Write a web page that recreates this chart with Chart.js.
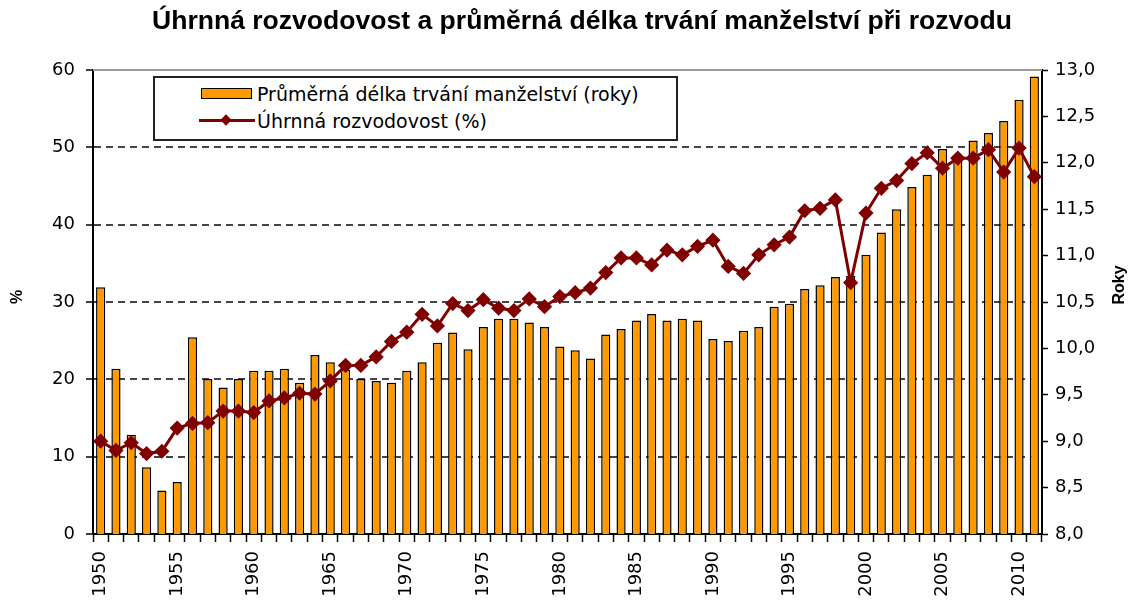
<!DOCTYPE html>
<html lang="cs">
<head>
<meta charset="utf-8">
<title>Úhrnná rozvodovost</title>
<script src="https://cdn.jsdelivr.net/npm/chart.js@4.4.1/dist/chart.umd.min.js"></script>
<style>
  html, body { margin: 0; padding: 0; background: #fff; }
  #wrap { position: relative; width: 1144px; height: 601px; }
  #legend {
    position: absolute; left: 153px; top: 76px; width: 521px; height: 61px;
    border: 2px solid #222; background: #fff;
    font: 19px "DejaVu Sans", sans-serif; color: #000;
  }
  #legend .row { position: absolute; left: 44px; height: 24px; display: flex; align-items: center; }
  #legend .sw { position: relative; width: 56px; height: 24px; margin-right: 2px; }
  #legend .bar { position: absolute; left: 2px; top: 6px; width: 49px; height: 9px; border: 1.5px solid #000; }
  #legend .ln { position: absolute; left: 0; top: 10px; width: 56px; height: 3px; }
  #legend .dot { position: absolute; left: 23px; top: 7px; width: 8px; height: 8px; transform: rotate(45deg); }
</style>
</head>
<body>
<div id="wrap">
  <canvas id="chart" width="1144" height="601"></canvas>
  <div id="legend"></div>
</div>
<script>
// data
const years = [
  "1950","1951","1952","1953","1954","1955","1956","1957","1958","1959",
  "1960","1961","1962","1963","1964","1965","1966","1967","1968","1969",
  "1970","1971","1972","1973","1974","1975","1976","1977","1978","1979",
  "1980","1981","1982","1983","1984","1985","1986","1987","1988","1989",
  "1990","1991","1992","1993","1994","1995","1996","1997","1998","1999",
  "2000","2001","2002","2003","2004","2005","2006","2007","2008","2009",
  "2010","2011"
];
// průměrná délka trvání manželství (roky) - pravá osa
const duration = [
  10.66, 9.78, 9.07, 8.72, 8.47, 8.56, 10.12, 9.67, 9.58, 9.67,
  9.76, 9.76, 9.78, 9.63, 9.93, 9.85, 9.77, 9.67, 9.65, 9.63,
  9.76, 9.85, 10.06, 10.17, 9.99, 10.23, 10.32, 10.32, 10.28, 10.23,
  10.02, 9.98, 9.89, 10.15, 10.21, 10.30, 10.37, 10.30, 10.32, 10.30,
  10.10, 10.08, 10.19, 10.23, 10.45, 10.48, 10.64, 10.68, 10.77, 10.78,
  11.01, 11.25, 11.50, 11.74, 11.87, 12.15, 12.08, 12.24, 12.32, 12.45,
  12.68, 12.93
];
// úhrnná rozvodovost (%) - levá osa
const divorceRate = [
  12.0, 10.8, 11.8, 10.4, 10.7, 13.7, 14.3, 14.4, 15.9, 15.9,
  15.7, 17.2, 17.6, 18.2, 18.1, 19.8, 21.8, 21.8, 22.9, 24.9,
  26.1, 28.4, 26.9, 29.8, 28.9, 30.3, 29.2, 28.9, 30.4, 29.4,
  30.7, 31.2, 31.8, 33.8, 35.7, 35.7, 34.8, 36.7, 36.1, 37.2,
  38.0, 34.6, 33.7, 36.1, 37.4, 38.4, 41.8, 42.1, 43.2, 32.5,
  41.5, 44.7, 45.7, 47.9, 49.3, 47.3, 48.6, 48.6, 49.7, 46.8,
  49.9, 46.2
];
const labelYears = ["1950","1955","1960","1965","1970","1975","1980","1985","1990","1995","2000","2005","2010"];
const titleText = "Úhrnná rozvodovost a průměrná délka trvání manželství při rozvodu";

const ORANGE = "#ff9900", MAROON = "#800000";
const tickFont = { family: '"DejaVu Sans", sans-serif', size: 18 };

// nadpis (úzké tučné písmo), rámeček nahoře, popisky os (zdola nahoru)
const extras = {
  id: "extras",
  beforeDatasetsDraw(chart) {
    const { ctx, chartArea: a } = chart;
    ctx.save();
    ctx.strokeStyle = "#9a9a9a"; ctx.lineWidth = 2;
    ctx.beginPath(); ctx.moveTo(a.left, a.top); ctx.lineTo(a.right, a.top); ctx.stroke();
    ctx.restore();
  },
  afterDraw(chart) {
    const { ctx } = chart;
    ctx.save();
    ctx.fillStyle = "#000"; ctx.textAlign = "center"; ctx.textBaseline = "middle";
    // title squeezed to the narrow look of the original
    ctx.font = 'bold 26px "Liberation Sans", Arial, sans-serif';
    const w = ctx.measureText(titleText).width;
    ctx.save(); ctx.translate(582, 22); ctx.scale(860 / w, 1);
    ctx.fillText(titleText, 0, 0); ctx.restore();

    const vtext = (t, x, y) => {
      ctx.save(); ctx.translate(x, y); ctx.rotate(-Math.PI / 2);
      ctx.fillText(t, 0, 0); ctx.restore();
    };
    ctx.font = 'bold 16px "Liberation Sans", Arial, sans-serif';
    vtext("%", 18, 297);
    vtext("Roky", 1120, 285);
    ctx.restore();
  }
};

const chart = new Chart(document.getElementById("chart"), {
  data: {
    labels: years,
    datasets: [
      {
        type: "bar", label: "Průměrná délka trvání manželství (roky)",
        data: duration, yAxisID: "y1", order: 2,
        backgroundColor: ORANGE, borderColor: "#000", borderWidth: 1.5,
        categoryPercentage: 1, barPercentage: 0.6,
      },
      {
        type: "line", label: "Úhrnná rozvodovost (%)",
        data: divorceRate, yAxisID: "y", order: 1,
        borderColor: MAROON, borderWidth: 3, tension: 0,
        pointStyle: "rectRot", pointRadius: 5.5, pointBackgroundColor: MAROON, pointBorderColor: MAROON,
      },
    ],
  },
  plugins: [extras],
  options: {
    responsive: false, animation: false,
    layout: { padding: { left: 20, top: 70 } },
    plugins: {
      legend: { display: false },
      tooltip: { enabled: false },
      title: { display: false },
    },
    scales: {
      x: {
        type: "category", offset: true,
        grid: { offset: true, drawOnChartArea: false, tickLength: 8, tickColor: "#000", tickWidth: 1.5 },
        border: { color: "#000", width: 2 },
        ticks: {
          color: "#000", font: tickFont, autoSkip: false, minRotation: 90, maxRotation: 90, padding: 9,
          callback(v, i) { const y = years[i]; return labelYears.includes(y) ? y : ""; },
        },
        afterFit(s) { s.height = 67; },
      },
      y: {
        position: "left", min: 0, max: 60,
        ticks: { stepSize: 10, color: "#000", font: tickFont, padding: 11 },
        grid: {
          color: (c) => (c.tick.value === 0 || c.tick.value === 60 ? "rgba(0,0,0,0)" : "#444"),
          lineWidth: 2, tickLength: 7, tickColor: "#000", tickWidth: 1.5,
        },
        border: { color: "#000", width: 2, dash: [7, 5] },
        afterFit(s) { s.width = 73; },
      },
      y1: {
        position: "right", min: 8, max: 13,
        ticks: { stepSize: 0.5, color: "#000", font: tickFont, padding: 7,
          callback: (v) => v.toFixed(1).replace(".", ",") },
        grid: { drawOnChartArea: false, tickLength: 6, tickColor: "#000", tickWidth: 1.5 },
        border: { color: "#000", width: 2 },
        afterFit(s) { s.width = 102; },
      },
    },
  },
});

// legenda v rámečku uvnitř grafu (HTML)
const legend = document.getElementById("legend");
chart.data.datasets.forEach((ds, i) => {
  const row = document.createElement("div");
  row.className = "row";
  row.style.top = (i === 0 ? 4 : 31) + "px";
  const sw = document.createElement("div");
  sw.className = "sw";
  if (ds.type === "bar") {
    sw.innerHTML = `<div class="bar" style="background:${ds.backgroundColor}"></div>`;
  } else {
    sw.innerHTML = `<div class="ln" style="background:${ds.borderColor}"></div>` +
      `<div class="dot" style="background:${ds.pointBackgroundColor}"></div>`;
  }
  const txt = document.createElement("span");
  txt.textContent = ds.label;
  row.appendChild(sw); row.appendChild(txt);
  legend.appendChild(row);
});
</script>
</body>
</html>
